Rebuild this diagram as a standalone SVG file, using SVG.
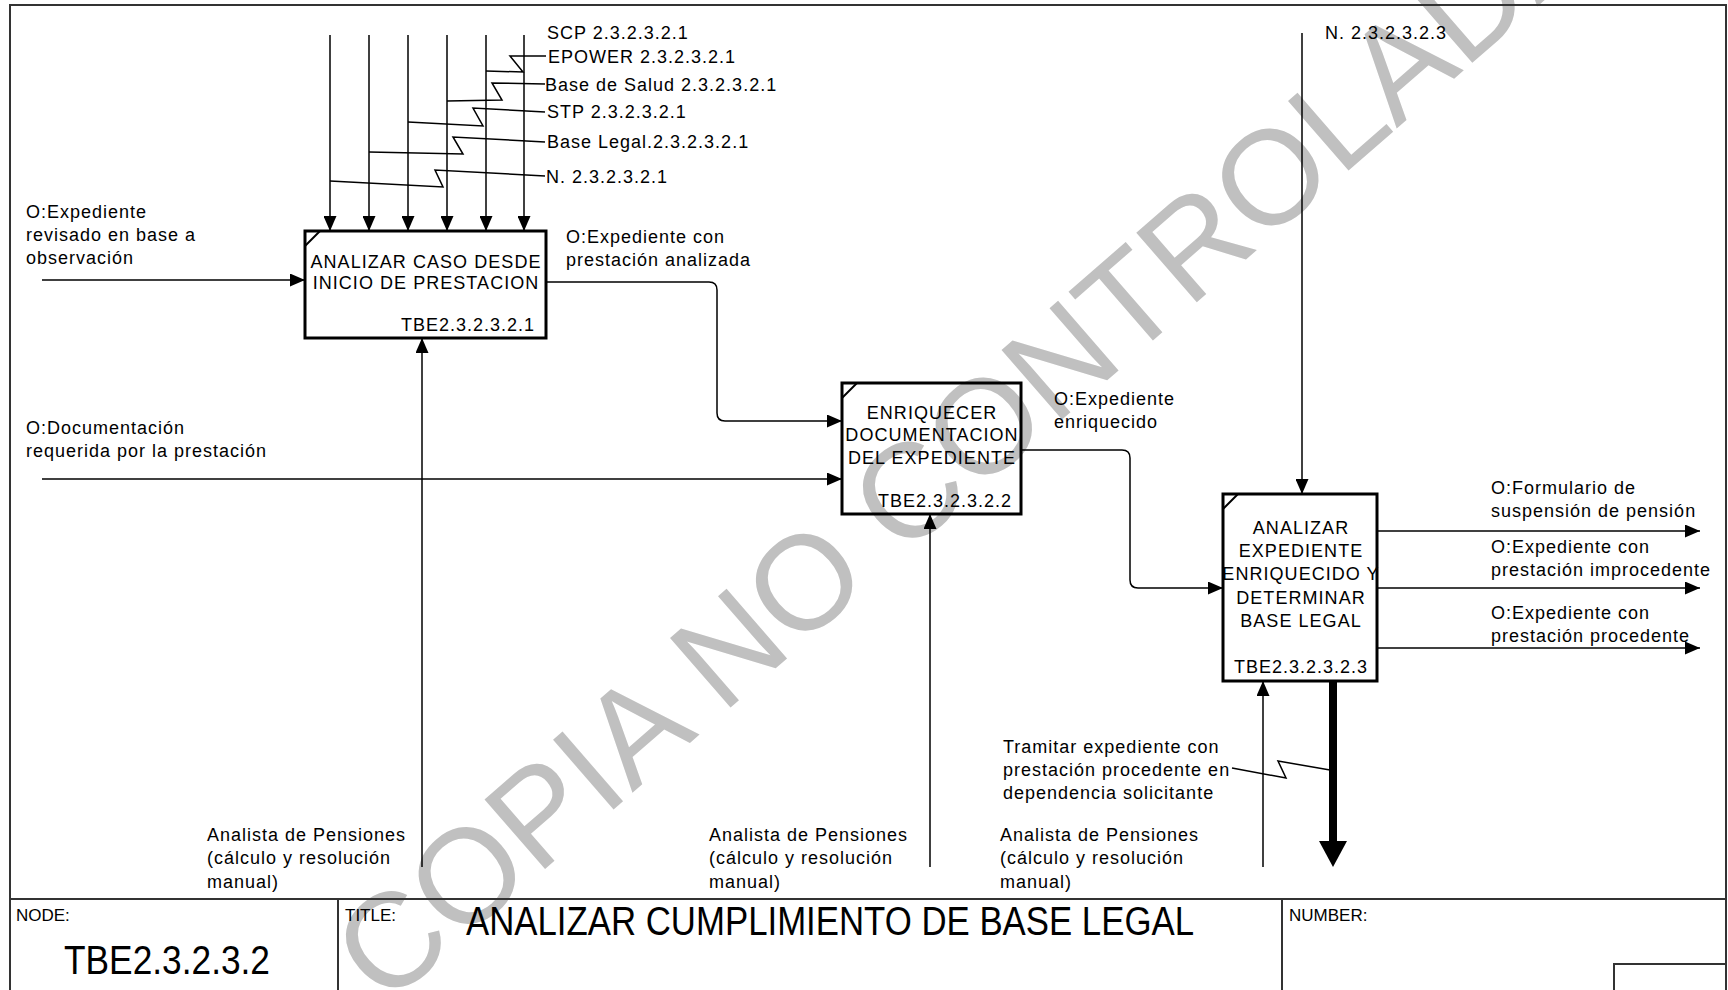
<svg xmlns="http://www.w3.org/2000/svg" width="1728" height="990" viewBox="0 0 1728 990">
<defs>
<marker id="ah" markerUnits="userSpaceOnUse" markerWidth="15" markerHeight="13" refX="15" refY="6.5" orient="auto">
<path d="M0,0 L15,6.5 L0,13 z" fill="#000"/>
</marker>
<style>
.lbl{font-family:"Liberation Sans",Arial,sans-serif;font-size:18px;letter-spacing:1px;fill:#000}
.box{fill:none;stroke:#000;stroke-width:3}
.tick{stroke:#000;stroke-width:2}
.bt{font-family:"Liberation Sans",Arial,sans-serif;font-size:18px;letter-spacing:1.05px;fill:#000;text-anchor:middle}
.id{font-family:"Liberation Sans",Arial,sans-serif;font-size:18px;letter-spacing:1px;fill:#000}
.ln{fill:none;stroke:#000;stroke-width:1.5}
.arr{fill:none;stroke:#000;stroke-width:1.5;marker-end:url(#ah)}
.frame{fill:none;stroke:#333;stroke-width:2}
.tb{font-family:"Liberation Sans",Arial,sans-serif;font-size:17px;fill:#000}
.wm{font-family:"Liberation Sans",Arial,sans-serif;font-size:134px;fill:#c0c0c0}
</style>
</defs>
<rect width="1728" height="990" fill="#fff"/>

<g id="watermark">
<text class="wm" x="385" y="1008" transform="rotate(-41 385 1008)">COPIA NO CONTROLADA</text>
</g>

<g id="frame">
<path class="frame" d="M10,990 V5 H1726 V990"/>
<line class="frame" x1="10" y1="899" x2="1726" y2="899"/>
<line class="frame" x1="338" y1="899" x2="338" y2="990"/>
<line class="frame" x1="1282" y1="899" x2="1282" y2="990"/>
<path class="frame" d="M1614,990 V964 H1726"/>
<text class="tb" x="16" y="921">NODE:</text>
<text class="tb" x="345" y="921">TITLE:</text>
<text class="tb" x="1289" y="921">NUMBER:</text>
<text font-family="'Liberation Sans',Arial,sans-serif" font-size="40" x="64" y="974" textLength="206" lengthAdjust="spacingAndGlyphs">TBE2.3.2.3.2</text>
<text font-family="'Liberation Sans',Arial,sans-serif" font-size="40" x="466" y="935" textLength="728" lengthAdjust="spacingAndGlyphs">ANALIZAR CUMPLIMIENTO DE BASE LEGAL</text>
</g>

<g id="connectors">
<line class="arr" x1="330" y1="35" x2="330" y2="231"/>
<line class="arr" x1="369" y1="35" x2="369" y2="231"/>
<line class="arr" x1="408" y1="35" x2="408" y2="231"/>
<line class="arr" x1="447" y1="35" x2="447" y2="231"/>
<line class="arr" x1="486" y1="35" x2="486" y2="231"/>
<line class="arr" x1="524" y1="35" x2="524" y2="231"/>
<path class="ln" d="M546,56 L510,56 L523,72 L486,71"/>
<path class="ln" d="M545,84 L492,83 L502,100 L447,101"/>
<path class="ln" d="M545,112 L473,108 L483,126 L408,122"/>
<path class="ln" d="M545,142 L453,137 L463,154 L369,152"/>
<path class="ln" d="M545,176 L435,170 L443,187 L330,181"/>
<line class="arr" x1="42" y1="280" x2="305" y2="280"/>
<line class="arr" x1="42" y1="479" x2="842" y2="479"/>
<path class="arr" d="M546,282 H709 Q717,282 717,290 V413 Q717,421 725,421 H842"/>
<path class="arr" d="M1021,450 H1122 Q1130,450 1130,458 V580 Q1130,588 1138,588 H1223"/>
<line class="arr" x1="1302" y1="33" x2="1302" y2="494"/>
<line class="arr" x1="1377" y1="531" x2="1700" y2="531"/>
<line class="arr" x1="1377" y1="588" x2="1700" y2="588"/>
<line class="arr" x1="1377" y1="648" x2="1700" y2="648"/>
<line class="arr" x1="422" y1="867" x2="422" y2="338"/>
<line class="arr" x1="930" y1="867" x2="930" y2="514"/>
<line class="arr" x1="1263" y1="867" x2="1263" y2="681"/>
<line x1="1333" y1="681" x2="1333" y2="843" stroke="#000" stroke-width="8"/>
<polygon points="1319,841 1347,841 1333,867" fill="#000"/>
<path class="ln" d="M1232,768 L1286,778 L1278,761 L1330,770"/>
</g>

<g id="labels">
<text class="lbl" x="547" y="39">SCP 2.3.2.3.2.1</text>
<text class="lbl" x="548" y="63">EPOWER 2.3.2.3.2.1</text>
<text class="lbl" x="545" y="91">Base de Salud 2.3.2.3.2.1</text>
<text class="lbl" x="547" y="118">STP 2.3.2.3.2.1</text>
<text class="lbl" x="547" y="148">Base Legal.2.3.2.3.2.1</text>
<text class="lbl" x="546" y="183">N. 2.3.2.3.2.1</text>
<text class="lbl" x="1325" y="39">N. 2.3.2.3.2.3</text>
<text class="lbl" x="26" y="218">O:Expediente</text>
<text class="lbl" x="26" y="241">revisado en base a</text>
<text class="lbl" x="26" y="264">observación</text>
<text class="lbl" x="566" y="243">O:Expediente con</text>
<text class="lbl" x="566" y="266">prestación analizada</text>
<text class="lbl" x="26" y="434">O:Documentación</text>
<text class="lbl" x="26" y="457">requerida por la prestación</text>
<text class="lbl" x="1054" y="405">O:Expediente</text>
<text class="lbl" x="1054" y="428">enriquecido</text>
<text class="lbl" x="1491" y="494">O:Formulario de</text>
<text class="lbl" x="1491" y="517">suspensión de pensión</text>
<text class="lbl" x="1491" y="553">O:Expediente con</text>
<text class="lbl" x="1491" y="576">prestación improcedente</text>
<text class="lbl" x="1491" y="619">O:Expediente con</text>
<text class="lbl" x="1491" y="642">prestación procedente</text>
<text class="lbl" x="1003" y="753">Tramitar expediente con</text>
<text class="lbl" x="1003" y="776">prestación procedente en</text>
<text class="lbl" x="1003" y="799">dependencia solicitante</text>
<text class="lbl" x="207" y="841">Analista de Pensiones</text>
<text class="lbl" x="207" y="864">(cálculo y resolución</text>
<text class="lbl" x="207" y="888">manual)</text>
<text class="lbl" x="709" y="841">Analista de Pensiones</text>
<text class="lbl" x="709" y="864">(cálculo y resolución</text>
<text class="lbl" x="709" y="888">manual)</text>
<text class="lbl" x="1000" y="841">Analista de Pensiones</text>
<text class="lbl" x="1000" y="864">(cálculo y resolución</text>
<text class="lbl" x="1000" y="888">manual)</text>
</g>

<g id="node1">
<rect class="box" x="305" y="231" width="241" height="107"/>
<line class="tick" x1="305" y1="246" x2="320" y2="231"/>
<text class="bt" x="426" y="268">ANALIZAR CASO DESDE</text>
<text class="bt" x="426" y="289">INICIO DE PRESTACION</text>
<text class="id" x="535" y="331" text-anchor="end">TBE2.3.2.3.2.1</text>
</g>

<g id="node2">
<rect class="box" x="842" y="383" width="179" height="131"/>
<line class="tick" x1="842" y1="398" x2="857" y2="383"/>
<text class="bt" x="932" y="419">ENRIQUECER</text>
<text class="bt" x="932" y="441">DOCUMENTACION</text>
<text class="bt" x="932" y="464">DEL EXPEDIENTE</text>
<text class="id" x="1012" y="507" text-anchor="end">TBE2.3.2.3.2.2</text>
</g>

<g id="node3">
<rect class="box" x="1223" y="494" width="154" height="187"/>
<line class="tick" x1="1223" y1="509" x2="1238" y2="494"/>
<text class="bt" x="1301" y="534">ANALIZAR</text>
<text class="bt" x="1301" y="557">EXPEDIENTE</text>
<text class="bt" x="1301" y="580">ENRIQUECIDO Y</text>
<text class="bt" x="1301" y="604">DETERMINAR</text>
<text class="bt" x="1301" y="627">BASE LEGAL</text>
<text class="id" x="1301" y="673" text-anchor="middle">TBE2.3.2.3.2.3</text>
</g>
</svg>
